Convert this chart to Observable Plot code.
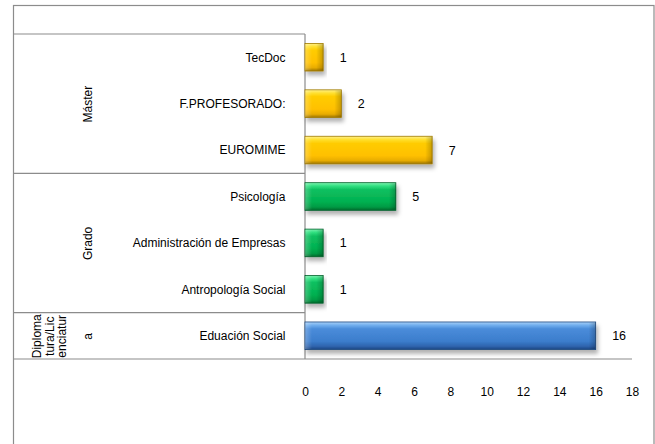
<!DOCTYPE html>
<html><head><meta charset="utf-8">
<script src="https://cdn.jsdelivr.net/npm/d3@7"></script>
<script src="https://cdn.jsdelivr.net/npm/@observablehq/plot@0.6"></script>
<style>body{margin:0;background:#fff} svg{display:block}</style>
</head><body><div id="chart"></div>
<script>
const categories = ["TecDoc", "F.PROFESORADO:", "EUROMIME", "Psicología", "Administración de Empresas", "Antropología Social", "Eduación Social"];
const values = [1, 2, 7, 5, 1, 1, 16];
const groups = ["Máster", "Máster", "Máster", "Grado", "Grado", "Grado", "Diplomatura/Licenciatura"];
const groupNames = ["Máster", "Grado", "Diplomatura/Licenciatura"];
const groupLabels = ["Máster", "Grado", "Diploma\ntura/Lic\nenciatur\n\na"];
const xTicks = [0, 2, 4, 6, 8, 10, 12, 14, 16, 18];

const palette = {
  "Máster": {id: "g-gold", stops: ["#FFF08A", "#FFE030", "#FFCC00", "#FFC000", "#E8AC00", "#9C7400"], stroke: "#A07A00"},
  "Grado": {id: "g-green", stops: ["#7CF2B0", "#30E080", "#10C060", "#00B050", "#009A44", "#006A2C"], stroke: "#00602A"},
  "Diplomatura/Licenciatura": {id: "g-blue", stops: ["#A8D0F8", "#70AEEE", "#4A8CDA", "#3C7DCC", "#2E64AE", "#1C4680"], stroke: "#1F4A80"}
};

const rows = categories.map((c, i) => ({category: c, value: values[i], group: groups[i], i}));
const groupRows = groupNames.map((g, k) => {
  const rs = rows.filter(r => r.group === g);
  const start = d3.min(rs, r => r.i), end = d3.max(rs, r => r.i) + 1;
  return {group: g, label: groupLabels[k], start, end, mid: (start + end) / 2};
});

const defsMark = () => {
  const g = d3.create("svg:g");
  const defs = g.append("defs");
  const offs = [0, 0.12, 0.25, 0.7, 0.88, 1];
  for (const g2 of groupNames) {
    const p = palette[g2];
    const lg = defs.append("linearGradient").attr("id", p.id).attr("x1", 0).attr("y1", 0).attr("x2", 0).attr("y2", 1);
    p.stops.forEach((s, k) => lg.append("stop").attr("offset", offs[k]).attr("stop-color", s));
  }
  const endR = defs.append("linearGradient").attr("id", "end-r").attr("x1", 0).attr("y1", 0).attr("x2", 1).attr("y2", 0);
  endR.append("stop").attr("offset", 0).attr("stop-color", "#000").attr("stop-opacity", 0);
  endR.append("stop").attr("offset", 1).attr("stop-color", "#000").attr("stop-opacity", 0.22);
  const endL = defs.append("linearGradient").attr("id", "end-l").attr("x1", 0).attr("y1", 0).attr("x2", 1).attr("y2", 0);
  endL.append("stop").attr("offset", 0).attr("stop-color", "#fff").attr("stop-opacity", 0.25);
  endL.append("stop").attr("offset", 1).attr("stop-color", "#fff").attr("stop-opacity", 0);
  const f = defs.append("filter").attr("id", "shadow").attr("x", "-10%").attr("y", "-30%").attr("width", "130%").attr("height", "190%");
  f.append("feDropShadow").attr("dx", 2).attr("dy", 4).attr("stdDeviation", 2.2).attr("flood-color", "#000").attr("flood-opacity", 0.3);
  return g.node();
};

const tableMark = (index, {x, y}, values, {width, height}) => {
  const g = d3.create("svg:g").attr("stroke", "#8c8c8c").attr("fill", "none").attr("stroke-width", 1.2);
  const left = 13.5;
  g.append("rect").attr("x", left).attr("y", 5.5).attr("width", 654 - left).attr("height", height + 20);
  for (const gr of groupRows) {
    g.append("line").attr("x1", left).attr("x2", x(0)).attr("y1", y(gr.start)).attr("y2", y(gr.start));
  }
  const last = d3.max(groupRows, d => d.end);
  g.append("line").attr("x1", left).attr("x2", x(d3.max(xTicks))).attr("y1", y(last)).attr("y2", y(last));
  g.append("line").attr("x1", x(0)).attr("x2", x(0)).attr("y1", y(0)).attr("y2", y(last));
  return g.node();
};

const barMarks = groupNames.map(g => Plot.rectX(rows.filter(r => r.group === g), {
  x1: 0, x2: "value", y1: d => d.i, y2: d => d.i + 1,
  insetTop: 9.4, insetBottom: 9.4,
  fill: `url(#${palette[g].id})`, stroke: palette[g].stroke, strokeWidth: 0.8
}));

const chart = Plot.plot({
  width: 655, height: 444,
  marginLeft: 305, marginRight: 23, marginTop: 34, marginBottom: 85,
  style: {fontFamily: "'Liberation Sans', Arial, sans-serif", fontSize: "12px", color: "#000", background: "#fff"},
  x: {domain: [0, 18], ticks: xTicks, tickSize: 0, tickPadding: 28, label: null},
  y: {domain: [0, 7], reverse: true, axis: null},
  marks: [
    defsMark,
    tableMark,
    ...barMarks,
    Plot.rectX(rows, {x1: "value", x2: "value", y1: d => d.i, y2: d => d.i + 1, insetTop: 10, insetBottom: 10, insetLeft: -7, fill: "url(#end-r)"}),
    Plot.rectX(rows, {x1: 0, x2: 0, y1: d => d.i, y2: d => d.i + 1, insetTop: 10, insetBottom: 10, insetRight: -7, fill: "url(#end-l)"}),
    Plot.text(rows, {x: 0, y: d => d.i + 0.5, text: "category", textAnchor: "end", dx: -20, fill: "#000"}),
    Plot.text(rows, {x: "value", y: d => d.i + 0.5, text: d => String(d.value), textAnchor: "start", dx: 16, fill: "#000", fontSize: 12.5}),
    Plot.text(groupRows, {frameAnchor: "left", y: "mid", text: "label", rotate: -90, textAnchor: "middle", lineAnchor: "bottom", lineHeight: 1.05, dx: -214, fill: "#000"})
  ]
});
d3.select(chart).selectAll("g[aria-label=rect]:nth-of-type(-n+5) rect").attr("filter", null);
const rectGroups = chart.querySelectorAll("g[aria-label=rect]");
rectGroups.forEach((gEl, k) => { if (k < groupNames.length) gEl.querySelectorAll("rect").forEach(r => r.setAttribute("filter", "url(#shadow)")); });
document.getElementById("chart").append(chart);
</script>
</body></html>
